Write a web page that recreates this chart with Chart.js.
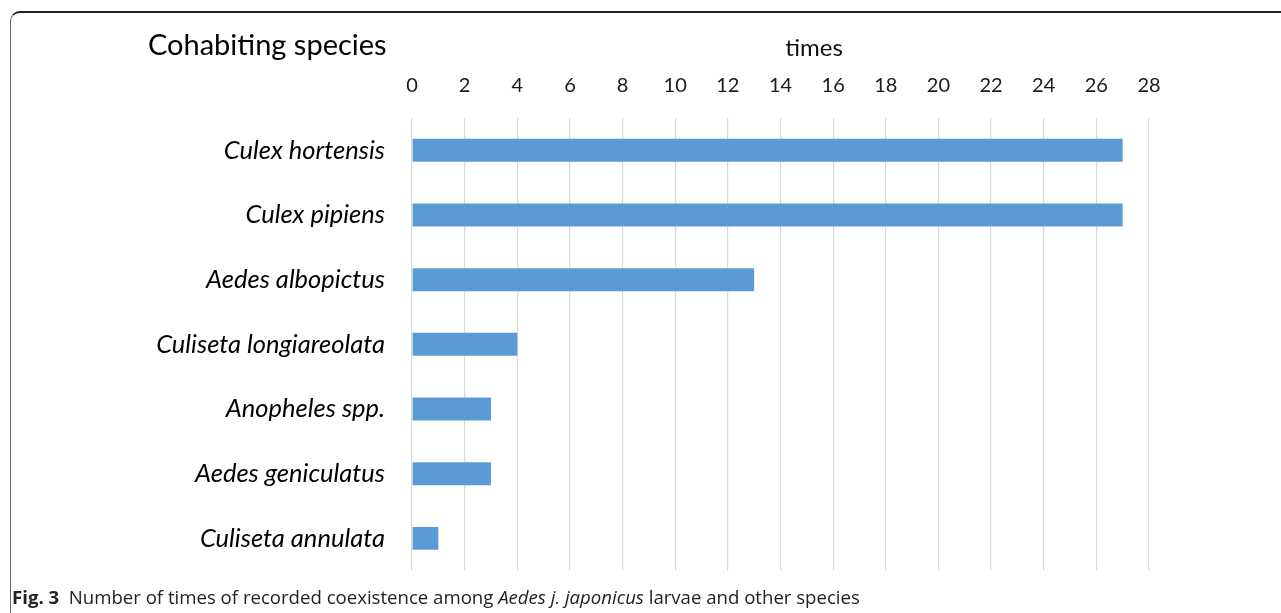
<!DOCTYPE html>
<html lang="en">

<head>
    <meta charset="UTF-8">
    <title>Cohabiting species</title>
    <style>
        body {
            margin: 0;
            background: #fff;
            font-family: 'Lato', sans-serif;
        }

        .figure {
            position: relative;
            width: 1281px;
            height: 613px;
            overflow: hidden;
        }

        .frame {
            position: absolute;
            left: 10px;
            top: 11px;
            right: -20px;
            bottom: -20px;
            border-top: 2px solid #222;
            border-left: 1px solid #666;
            border-top-left-radius: 10px;
        }

        canvas {
            position: absolute;
            left: 0;
            top: 0;
        }

        .title {
            position: absolute;
            left: 148px;
            top: 26px;
            font-size: 29px;
            color: #000;
            line-height: 36px;
        }

        .axis-title {
            position: absolute;
            left: 774px;
            width: 80px;
            text-align: center;
            top: 31px;
            font-size: 24px;
            color: #111;
            line-height: 32px;
        }

        .caption {
            position: absolute;
            left: 12px;
            top: 584px;
            font-family: 'Open Sans', sans-serif;
            font-size: 18.6px;
            color: #222;
            line-height: 26px;
            white-space: nowrap;
        }
    </style>
    <script src="https://cdn.jsdelivr.net/npm/chart.js"></script>
</head>

<body>
    <div class="figure">
        <div class="frame"></div>
        <canvas id="chart" width="1281" height="613"></canvas>
        <div class="title">Cohabiting species</div>
        <div class="axis-title">times</div>
        <div class="caption"><b>Fig. 3</b>&nbsp; Number of times of recorded coexistence among <i>Aedes j. japonicus</i> larvae and other species</div>
    </div>

    <script>
        // data
        const species = [
            'Culex hortensis',
            'Culex pipiens',
            'Aedes albopictus',
            'Culiseta longiareolata',
            'Anopheles spp.',
            'Aedes geniculatus',
            'Culiseta annulata'
        ];
        const times = [27, 27, 13, 4, 3, 3, 1];
        const axisMin = 0;
        const axisMax = 28;
        const axisStep = 2;

        const ctx = document.getElementById('chart').getContext('2d');
        const chart = new Chart(ctx, {
            type: 'bar',
            data: {
                labels: species,
                datasets: [{
                    label: 'times',
                    data: times,
                    backgroundColor: '#5b9bd5',
                    borderWidth: 0,
                    categoryPercentage: 1,
                    barPercentage: 0.355
                }]
            },
            options: {
                indexAxis: 'y',
                responsive: false,
                animation: false,
                layout: {
                    padding: { top: 0, left: 0, right: 132, bottom: 40 }
                },
                plugins: {
                    legend: { display: false },
                    tooltip: { enabled: false }
                },
                scales: {
                    x: {
                        position: 'top',
                        min: axisMin,
                        max: axisMax,
                        ticks: {
                            stepSize: axisStep,
                            padding: 20,
                            color: '#1a1a1a',
                            font: { family: 'Lato', size: 20 }
                        },
                        grid: {
                            color: '#d9d9d9',
                            lineWidth: 1.2,
                            drawTicks: false
                        },
                        border: { display: false },
                        afterFit: (scale) => { scale.height = 118; }
                    },
                    y: {
                        ticks: {
                            padding: 27,
                            color: '#000',
                            font: { family: 'Lato', size: 25.5, style: 'italic' }
                        },
                        grid: { display: false, drawTicks: false },
                        border: { display: false },
                        afterFit: (scale) => { scale.width = 412; }
                    }
                }
            }
        });
    </script>
</body>

</html>
